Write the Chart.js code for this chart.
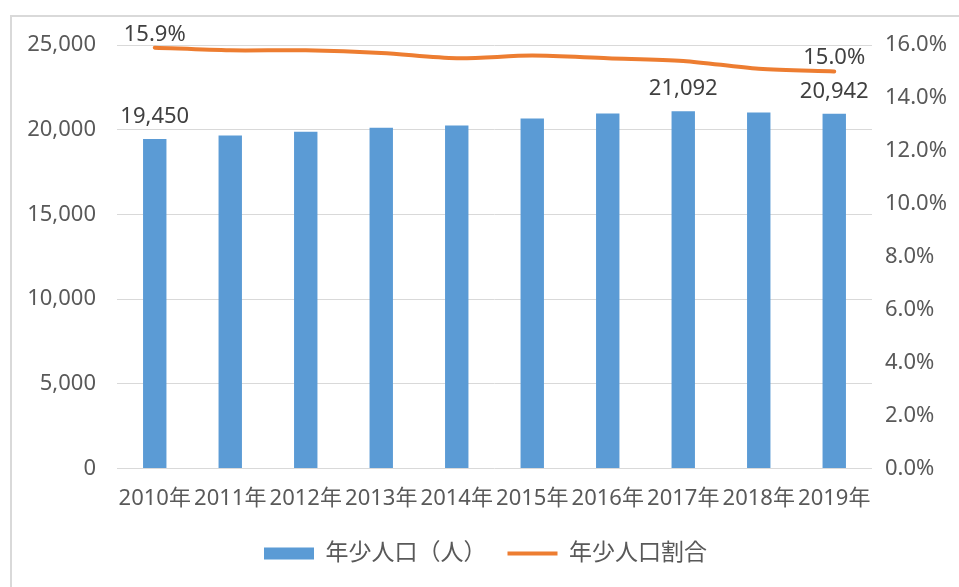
<!DOCTYPE html>
<html>
<head>
<meta charset="utf-8">
<script src="https://cdn.jsdelivr.net/npm/chart.js@4"></script>
<style>
  html, body { margin: 0; padding: 0; background: #fff; }
  #wrap { position: relative; width: 959px; height: 587px; overflow: hidden; }
  #frame { position: absolute; left: 10px; top: 15px; width: 1000px; height: 600px;
           border: 2px solid #d9d9d9; box-sizing: border-box; }
  canvas { position: absolute; left: 0; top: 0; }
</style>
</head>
<body>
<div id="wrap">
  <div id="frame"></div>
  <canvas id="chart" width="959" height="587"></canvas>
</div>
<script>
const years = ["2010年", "2011年", "2012年", "2013年", "2014年", "2015年", "2016年", "2017年", "2018年", "2019年"];
const population = [19450, 19660, 19880, 20110, 20250, 20660, 20960, 21092, 21020, 20942];
const ratio = [15.9, 15.8, 15.8, 15.7, 15.5, 15.6, 15.5, 15.4, 15.1, 15.0];

// only a few points carry a value label in the original
const popLabelIdx = [0, 7, 9];
const ratioLabelIdx = [0, 9];

const FONT = '"Noto Sans", "Noto Sans CJK JP", sans-serif';
Chart.defaults.font.family = FONT;
Chart.defaults.color = '#595959';

const valueLabels = {
    id: 'valueLabels',
    afterDatasetsDraw(chart) {
        const ctx = chart.ctx;
        ctx.save();
        ctx.font = '22px ' + FONT;
        ctx.fillStyle = '#404040';
        ctx.textAlign = 'center';
        ctx.textBaseline = 'alphabetic';

        const bars = chart.getDatasetMeta(0).data;
        for (let i of popLabelIdx) {
            ctx.fillText(population[i].toLocaleString('en-US'), bars[i].x, bars[i].y - 16);
        }
        const pts = chart.getDatasetMeta(1).data;
        for (let i of ratioLabelIdx) {
            ctx.fillText(ratio[i].toFixed(1) + '%', pts[i].x, pts[i].y - 7);
        }
        ctx.restore();
    }
};

const ctx = document.getElementById('chart');

new Chart(ctx, {
    data: {
        labels: years,
        datasets: [
            {
                type: 'bar',
                label: '年少人口（人）',
                data: population,
                yAxisID: 'y',
                backgroundColor: '#5B9BD5',
                borderWidth: 0,
                barPercentage: 0.31,
                categoryPercentage: 1,
                pointStyle: 'rect',
                order: 1
            },
            {
                type: 'line',
                label: '年少人口割合',
                data: ratio,
                yAxisID: 'y1',
                borderColor: '#ED7D31',
                backgroundColor: '#ED7D31',
                borderWidth: 4,
                borderCapStyle: 'round',
                pointRadius: 0,
                pointStyle: 'line',
                tension: 0.3,
                order: 0
            }
        ]
    },
    options: {
        responsive: false,
        animation: false,
        layout: { padding: { left: 12, right: 0, top: 45, bottom: 12 } },
        plugins: {
            legend: {
                position: 'bottom',
                reverse: true,
                labels: {
                    usePointStyle: true,
                    pointStyleWidth: 50,
                    boxHeight: 12,
                    padding: 21,
                    color: '#595959',
                    font: { size: 23 }
                }
            },
            tooltip: { enabled: false }
        },
        scales: {
            x: {
                grid: { display: false },
                border: { display: false },
                ticks: { autoSkip: false, maxRotation: 0, padding: 9, font: { size: 22 } }
            },
            y: {
                position: 'left',
                min: 0,
                max: 25000,
                grid: { color: '#d9d9d9', drawTicks: false, lineWidth: 1 },
                border: { display: false },
                ticks: {
                    stepSize: 5000,
                    padding: 21,
                    font: { size: 22 },
                    callback: v => v.toLocaleString('en-US')
                },
                afterFit(scale) { scale.width = 105; }
            },
            y1: {
                position: 'right',
                min: 0,
                max: 16,
                grid: { drawOnChartArea: false, drawTicks: false },
                border: { display: false },
                ticks: {
                    stepSize: 2,
                    padding: 13,
                    font: { size: 22 },
                    callback: v => v.toFixed(1) + '%'
                },
                afterFit(scale) { scale.width = 87; }
            }
        }
    },
    plugins: [valueLabels]
});
</script>
</body>
</html>
